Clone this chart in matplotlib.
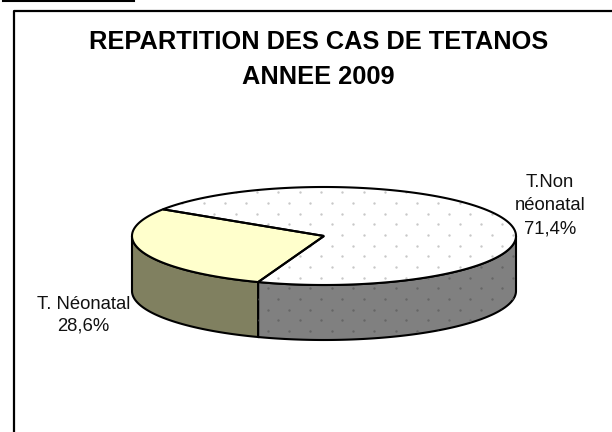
import numpy as np
import matplotlib
matplotlib.use('Agg')
import matplotlib.pyplot as plt
from matplotlib.patches import Polygon

plt.rcParams['font.family'] = ['Liberation Sans', 'DejaVu Sans']

# Data
categories = ['T. Néonatal', 'T.Non\nnéonatal']
shares = [28.6, 71.4]
share_labels = ['28,6%', '71,4%']
title = 'REPARTITION DES CAS DE TETANOS\nANNEE 2009'

W, H = 612, 432
cx, cy = 324, 236
a, b = 192, 49
depth = 55
start = 147  # angle of the first slice edge


def arc(t1, t2, drop=0):
    t = np.radians(np.linspace(t1, t2, 200))
    return cx + a * np.cos(t), cy - b * np.sin(t) + drop


fig = plt.figure(figsize=(W / 100, H / 100), dpi=100)
ax = fig.add_axes([0, 0, 1, 1])
ax.set_xlim(0, W)
ax.set_ylim(H, 0)
ax.axis('off')

# page underline and chart frame (only left and top are in the crop)
ax.plot([3, 134], [1, 1], color='black', lw=1.5)
ax.plot([13.5, 13.5, W], [H, 10.5, 10.5], color='black', lw=1.6)

ax.text(318.5, 59.5, title, ha='center', va='center', fontsize=18.3,
        fontweight='bold', linespacing=1.55)

# slice angles
t1 = start + shares[0] * 3.6
t_end = start + 360

# side walls (only the front half shows)
xs, ys = arc(180, t1)
xb, yb = arc(t1, 180, depth)
wall_neo = Polygon(np.r_[np.c_[xs, ys], np.c_[xb, yb]], fc='#808060', ec='black', lw=1.5, zorder=2)
ax.add_patch(wall_neo)

xs, ys = arc(t1, 360)
xb, yb = arc(360, t1, depth)
wall_non = Polygon(np.r_[np.c_[xs, ys], np.c_[xb, yb]], fc='#808080', ec='black', lw=1.5, zorder=2)
ax.add_patch(wall_non)

# top faces
xs, ys = arc(start, t1)
top_neo = Polygon(np.r_[[[cx, cy]], np.c_[xs, ys]], fc='#FFFFCC', ec='black', lw=1.5, zorder=4)
ax.add_patch(top_neo)

xs, ys = arc(t1, t_end)
top_non = Polygon(np.r_[[[cx, cy]], np.c_[xs, ys]], fc='white', ec='none', zorder=3)
ax.add_patch(top_non)
outline = Polygon(np.r_[[[cx, cy]], np.c_[xs, ys]], fc='none', ec='black', lw=1.5, zorder=5)
ax.add_patch(outline)

# dotted fill pattern of the big slice
gx, gy = np.meshgrid(np.arange(0, 34), np.arange(0, 42))
px = 1 + 21.33 * gx + 10.67 * (gy % 2)
py = 0.3 + 10.67 * gy
dots = ax.scatter(px.ravel(), py.ravel(), s=3, color='#c8c8c8', lw=0, zorder=3.5)
dots.set_clip_path(top_non)
dots2 = ax.scatter(px.ravel(), py.ravel(), s=3, color='#666666', lw=0, zorder=3)
dots2.set_clip_path(wall_non)

ax.text(83.5, 315, categories[0] + '\n' + share_labels[0], ha='center', va='center',
        fontsize=13.3, linespacing=1.38, color='#111111')
ax.text(550, 206, categories[1] + '\n' + share_labels[1], ha='center', va='center',
        fontsize=13.3, linespacing=1.47, color='#111111')

fig.savefig('out.png', dpi=100)
